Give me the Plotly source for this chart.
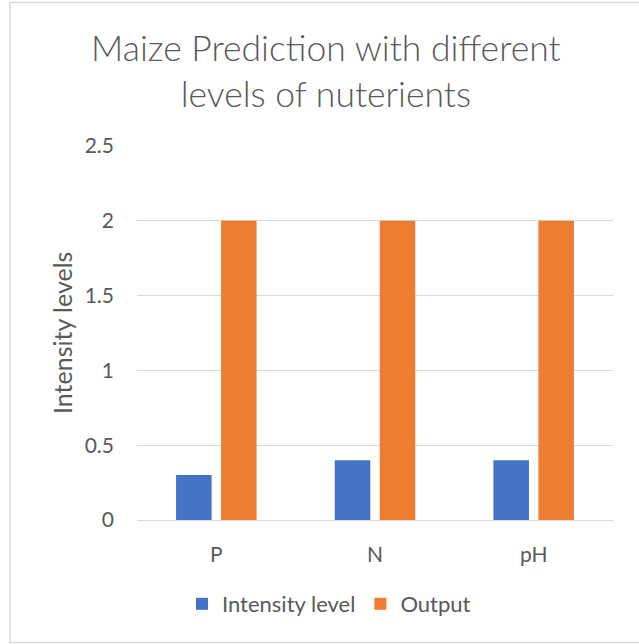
import plotly.graph_objects as go

categories = ["P", "N", "pH"]
intensity_level = [0.3, 0.4, 0.4]
output = [2, 2, 2]
y_ticks = [0, 0.5, 1, 1.5, 2, 2.5]
y_tick_labels = ["0", "0.5", "1", "1.5", "2", "2.5"]

FONT = "Lato, 'Open Sans', sans-serif"
GREY = "#595959"

fig = go.Figure()
fig.add_trace(go.Bar(name="Intensity level", x=categories, y=intensity_level,
                     marker=dict(color="#4472C4", line=dict(width=0))))
fig.add_trace(go.Bar(name="Output", x=categories, y=output,
                     marker=dict(color="#ED7D31", line=dict(width=0))))

L, R, T, B = 137, 26, 146, 124
W, H = 639, 644
pw, ph = W - L - R, H - T - B

def px_x(p):
    return (p - L) / pw

def px_y(p):
    return (H - B - p) / ph

fig.update_layout(
    width=W, height=H,
    margin=dict(l=L, r=R, t=T, b=B, autoexpand=False),
    paper_bgcolor="white", plot_bgcolor="white",
    barmode="group", bargap=0.433, bargroupgap=0.21,
    font=dict(family=FONT, color=GREY, size=21),
    title=dict(text="Maize Prediction with different<br>levels of nuterients",
               x=0.51, xanchor="center", y=1 - 61 / H, yanchor="middle",
               font=dict(size=35.5, color=GREY, family=FONT, weight=300)),
    showlegend=True,
    legend=dict(orientation="h", x=px_x(329), xanchor="center",
                y=px_y(604), yanchor="middle",
                font=dict(size=22, color=GREY), itemwidth=30,
                traceorder="normal", bgcolor="rgba(0,0,0,0)"),
    xaxis=dict(showgrid=False, showline=False, zeroline=False,
               ticks="", ticklabelstandoff=20, tickfont=dict(size=21, color=GREY)),
    yaxis=dict(range=[0, 2.5], tickvals=y_ticks, ticktext=y_tick_labels,
               showgrid=True, gridcolor="#D9D9D9", gridwidth=1,
               zeroline=True, zerolinecolor="#D9D9D9", zerolinewidth=1,
               showline=False, ticks="", ticklabelstandoff=22,
               tickfont=dict(size=21, color=GREY)),
    shapes=[dict(type="rect", xref="paper", yref="paper",
                 x0=px_x(10), x1=px_x(641), y0=px_y(642.5), y1=px_y(2.5),
                 line=dict(color="#D9D9D9", width=1.5), fillcolor="rgba(0,0,0,0)",
                 layer="below")],
    annotations=[dict(text="Intensity levels", xref="paper", yref="paper",
                      x=px_x(62), y=0.5, textangle=-90, showarrow=False,
                      xanchor="center", yanchor="middle",
                      font=dict(size=25, color=GREY, family=FONT))],
)

fig.write_html("out.html", config={"displayModeBar": False},
               post_script="document.body.style.margin='0';document.body.style.padding='0';")
